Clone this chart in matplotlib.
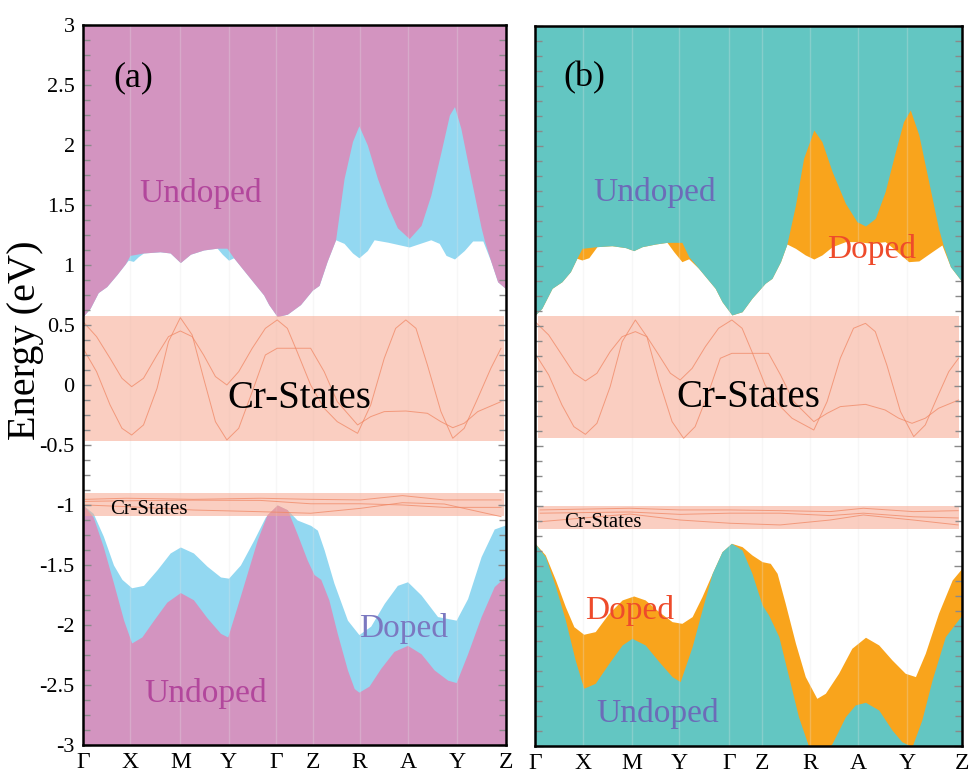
import numpy as np
import matplotlib
matplotlib.use("Agg")
import matplotlib.pyplot as plt
from matplotlib.ticker import MultipleLocator, FuncFormatter

plt.rcParams['font.family'] = ['Liberation Serif', 'DejaVu Serif']
plt.rcParams['axes.unicode_minus'] = False

# ---------------- data ----------------
kpath_labels = ['Γ', 'X', 'M', 'Y', 'Γ', 'Z', 'R', 'A', 'Y', 'Z']
kticks_a = [0.0, 0.111, 0.230, 0.344, 0.457, 0.543, 0.654, 0.768, 0.884, 1.0]
kticks_b = [0.0, 0.112, 0.227, 0.337, 0.454, 0.532, 0.644, 0.756, 0.871, 1.0]

# panel (a) conduction band, undoped / doped
ka_cb_u = [0.000, 0.017, 0.036, 0.056, 0.080, 0.100, 0.111, 0.143, 0.182, 0.206,
           0.230, 0.254, 0.285, 0.317, 0.340, 0.356, 0.388, 0.427, 0.439, 0.459,
           0.483, 0.514, 0.542, 0.558, 0.577, 0.597, 0.617, 0.637, 0.652, 0.672,
           0.696, 0.720, 0.743, 0.771, 0.799, 0.822, 0.846, 0.866, 0.878, 0.893,
           0.917, 0.941, 0.949, 0.964, 0.980, 1.000]
ea_cb_u = [0.57, 0.64, 0.77, 0.82, 0.92, 1.01, 1.08, 1.10, 1.11, 1.10,
           1.02, 1.09, 1.125, 1.14, 1.14, 1.06, 0.92, 0.75, 0.67, 0.57,
           0.59, 0.67, 0.79, 0.83, 1.03, 1.21, 1.72, 2.03, 2.16, 2.00,
           1.72, 1.49, 1.31, 1.22, 1.33, 1.58, 1.94, 2.25, 2.32, 2.14,
           1.72, 1.31, 1.20, 1.03, 0.86, 0.80]
ka_cb_d = [0.000, 0.017, 0.036, 0.056, 0.080, 0.100, 0.107, 0.119, 0.131, 0.143,
           0.182, 0.206, 0.230, 0.254, 0.285, 0.317, 0.329, 0.344, 0.356, 0.388,
           0.427, 0.439, 0.459, 0.483, 0.514, 0.542, 0.558, 0.577, 0.597, 0.617,
           0.637, 0.652, 0.672, 0.688, 0.720, 0.771, 0.822, 0.842, 0.858, 0.878,
           0.901, 0.921, 0.945, 0.964, 0.980, 1.000]
ea_cb_d = [0.57, 0.64, 0.77, 0.82, 0.92, 1.01, 1.04, 1.03, 1.07, 1.10,
           1.11, 1.10, 1.02, 1.09, 1.125, 1.14, 1.09, 1.04, 1.06, 0.92,
           0.75, 0.67, 0.57, 0.59, 0.67, 0.79, 0.83, 1.03, 1.21, 1.18,
           1.10, 1.06, 1.12, 1.21, 1.19, 1.15, 1.21, 1.18, 1.08, 1.05,
           1.12, 1.20, 1.20, 1.03, 0.86, 0.80]

# panel (a) valence band, undoped / doped
ka_vb_u = [0.000, 0.024, 0.048, 0.072, 0.096, 0.115, 0.139, 0.167, 0.198, 0.230,
           0.261, 0.293, 0.325, 0.342, 0.364, 0.388, 0.412, 0.435, 0.459, 0.483,
           0.506, 0.530, 0.546, 0.562, 0.581, 0.601, 0.625, 0.641, 0.652, 0.676,
           0.704, 0.735, 0.767, 0.799, 0.830, 0.862, 0.882, 0.909, 0.941, 0.972,
           1.000]
ea_vb_u = [-1.00, -1.10, -1.35, -1.65, -1.96, -2.15, -2.10, -1.96, -1.81, -1.73,
           -1.79, -1.94, -2.07, -2.10, -1.85, -1.57, -1.29, -1.08, -1.00, -1.04,
           -1.24, -1.46, -1.58, -1.62, -1.79, -2.07, -2.375, -2.53, -2.56, -2.51,
           -2.36, -2.22, -2.17, -2.24, -2.375, -2.46, -2.48, -2.24, -1.93, -1.68,
           -1.59]
ka_vb_d = [0.000, 0.024, 0.048, 0.072, 0.092, 0.115, 0.143, 0.175, 0.206, 0.230,
           0.261, 0.293, 0.325, 0.344, 0.372, 0.404, 0.431, 0.459, 0.483, 0.506,
           0.538, 0.554, 0.570, 0.593, 0.625, 0.652, 0.680, 0.712, 0.743, 0.767,
           0.799, 0.838, 0.882, 0.909, 0.941, 0.972, 1.000]
ea_vb_d = [-1.00, -1.07, -1.26, -1.50, -1.62, -1.69, -1.67, -1.54, -1.40, -1.35,
           -1.40, -1.51, -1.60, -1.61, -1.50, -1.29, -1.10, -1.00, -1.04, -1.125,
           -1.17, -1.21, -1.375, -1.65, -1.96, -2.08, -2.01, -1.82, -1.67, -1.64,
           -1.75, -1.93, -1.96, -1.78, -1.43, -1.20, -1.165]

# panel (b) conduction band, undoped / doped
kb_cb_u = [0.000, 0.016, 0.040, 0.063, 0.083, 0.098, 0.110, 0.145, 0.180, 0.212,
           0.231, 0.251, 0.282, 0.309, 0.344, 0.360, 0.383, 0.422, 0.438, 0.461,
           0.485, 0.508, 0.539, 0.555, 0.575, 0.590, 0.610, 0.629, 0.653, 0.672,
           0.696, 0.727, 0.754, 0.774, 0.797, 0.820, 0.844, 0.863, 0.879, 0.899,
           0.922, 0.945, 0.957, 0.973, 1.000]
eb_cb_u = [0.59, 0.647, 0.814, 0.869, 0.953, 1.064, 1.147, 1.161, 1.169, 1.153,
           1.128, 1.161, 1.183, 1.197, 1.197, 1.078, 0.981, 0.814, 0.703, 0.592,
           0.619, 0.731, 0.856, 0.897, 1.036, 1.183, 1.508, 1.897, 2.133, 2.036,
           1.786, 1.522, 1.369, 1.333, 1.397, 1.619, 1.953, 2.203, 2.30, 2.092,
           1.703, 1.314, 1.161, 0.994, 0.869]
kb_cb_d = [0.000, 0.016, 0.040, 0.063, 0.083, 0.098, 0.110, 0.126, 0.145, 0.180,
           0.212, 0.231, 0.251, 0.282, 0.309, 0.325, 0.344, 0.360, 0.383, 0.422,
           0.438, 0.461, 0.485, 0.508, 0.539, 0.555, 0.575, 0.590, 0.610, 0.633,
           0.653, 0.672, 0.696, 0.727, 0.754, 0.789, 0.820, 0.844, 0.875, 0.899,
           0.930, 0.953, 0.973, 1.000]
eb_cb_d = [0.59, 0.647, 0.814, 0.869, 0.953, 1.064, 1.05, 1.069, 1.161, 1.169,
           1.153, 1.128, 1.161, 1.183, 1.197, 1.119, 1.036, 1.06, 0.981, 0.814,
           0.703, 0.592, 0.619, 0.731, 0.856, 0.897, 1.036, 1.183, 1.147, 1.092,
           1.058, 1.092, 1.161, 1.203, 1.203, 1.189, 1.203, 1.133, 1.036, 1.042,
           1.119, 1.175, 0.994, 0.869]

# panel (b) valence band, undoped / doped
kb_vb_u = [0.000, 0.024, 0.048, 0.071, 0.094, 0.114, 0.141, 0.173, 0.204, 0.227,
           0.258, 0.290, 0.321, 0.340, 0.368, 0.391, 0.415, 0.438, 0.460, 0.485,
           0.508, 0.532, 0.547, 0.571, 0.594, 0.617, 0.641, 0.664, 0.696, 0.727,
           0.750, 0.774, 0.805, 0.836, 0.859, 0.883, 0.906, 0.930, 0.961, 1.000]
eb_vb_u = [-1.311, -1.422, -1.672, -1.95, -2.283, -2.519, -2.478, -2.311, -2.158, -2.103,
           -2.158, -2.297, -2.422, -2.464, -2.172, -1.867, -1.561, -1.381, -1.311, -1.367,
           -1.561, -1.825, -1.908, -2.089, -2.422, -2.756, -3.006, -3.12, -2.978, -2.756,
           -2.658, -2.636, -2.70, -2.867, -2.964, -3.006, -2.783, -2.45, -2.089, -1.908]
kb_vb_d = [0.000, 0.024, 0.048, 0.071, 0.091, 0.114, 0.141, 0.173, 0.204, 0.231,
           0.258, 0.290, 0.321, 0.344, 0.368, 0.391, 0.415, 0.438, 0.460, 0.485,
           0.508, 0.532, 0.551, 0.567, 0.586, 0.610, 0.633, 0.660, 0.680, 0.711,
           0.742, 0.774, 0.805, 0.836, 0.867, 0.891, 0.914, 0.945, 0.977, 1.000]
eb_vb_d = [-1.311, -1.408, -1.617, -1.839, -2.006, -2.069, -2.047, -1.894, -1.783, -1.75,
           -1.783, -1.881, -1.964, -1.978, -1.922, -1.756, -1.561, -1.381, -1.311, -1.339,
           -1.408, -1.464, -1.478, -1.561, -1.811, -2.144, -2.422, -2.603, -2.561, -2.394,
           -2.186, -2.094, -2.158, -2.283, -2.394, -2.422, -2.228, -1.894, -1.617, -1.519]

# Cr-state bands (energy windows) and k extents
cr_upper_a = (-0.47, 0.575); cr_lower_a = (-1.09, -0.90); cr_k_a = (0.004, 0.996)
cr_upper_b = (-0.43, 0.583); cr_lower_b = (-1.19, -1.00); cr_k_b = (0.008, 0.992)

# Cr bands lines, panel (a)
ka_cr1 = [0.000, 0.032, 0.064, 0.092, 0.115, 0.143, 0.175, 0.202, 0.230, 0.258,
          0.285, 0.313, 0.340, 0.368, 0.400, 0.431, 0.459, 0.483, 0.506, 0.538,
          0.570, 0.601, 0.649, 0.680, 0.712, 0.739, 0.763, 0.787, 0.814, 0.846,
          0.874, 0.901, 0.933, 0.964, 0.988]
ea_cr1 = [0.528, 0.403, 0.222, 0.056, -0.014, 0.056, 0.25, 0.403, 0.45, 0.403,
          0.25, 0.07, 0.0, 0.111, 0.306, 0.472, 0.542, 0.472, 0.278, 0.0,
          -0.194, -0.306, -0.403, -0.167, 0.222, 0.472, 0.542, 0.472, 0.167, -0.222,
          -0.444, -0.361, -0.111, 0.139, 0.306]
ka_cr2 = [0.000, 0.032, 0.064, 0.092, 0.115, 0.143, 0.175, 0.202, 0.230, 0.258,
          0.285, 0.313, 0.340, 0.368, 0.400, 0.431, 0.459, 0.538, 0.570, 0.601,
          0.649, 0.680, 0.712, 0.763, 0.814, 0.846, 0.874, 0.901, 0.933, 0.988]
ea_cr2 = [0.306, 0.111, -0.167, -0.361, -0.417, -0.333, -0.028, 0.361, 0.561, 0.417,
          0.056, -0.306, -0.458, -0.361, -0.056, 0.25, 0.306, 0.306, 0.111, -0.139,
          -0.333, -0.264, -0.222, -0.217, -0.236, -0.306, -0.356, -0.319, -0.222, -0.139]
ka_crl = [0.005, 0.103, 0.261, 0.419, 0.538, 0.656, 0.755, 0.854, 0.988]
ea_crl1 = [-0.953, -0.944, -0.953, -0.944, -0.953, -0.958, -0.922, -0.958, -0.958]
ea_crl2 = [-0.97, -0.965, -0.96, -0.962, -0.99, -0.99, -1.00, -1.02, -1.02]
ea_crl3 = [-1.00, -1.014, -1.042, -1.056, -1.069, -1.028, -0.981, -0.992, -1.097]

# Cr bands lines, panel (b)
kb_cr1 = [0.000, 0.032, 0.063, 0.091, 0.118, 0.145, 0.176, 0.204, 0.235, 0.262,
          0.290, 0.317, 0.340, 0.368, 0.399, 0.430, 0.461, 0.485, 0.508, 0.539,
          0.571, 0.602, 0.653, 0.684, 0.715, 0.746, 0.774, 0.797, 0.824, 0.856,
          0.887, 0.914, 0.941, 0.969, 0.992]
eb_cr1 = [0.536, 0.425, 0.258, 0.106, 0.042, 0.106, 0.286, 0.411, 0.453, 0.411,
          0.258, 0.106, 0.05, 0.147, 0.328, 0.481, 0.55, 0.481, 0.286, 0.008,
          -0.158, -0.269, -0.367, -0.131, 0.231, 0.481, 0.522, 0.453, 0.175, -0.214,
          -0.422, -0.325, -0.103, 0.119, 0.231]
kb_cr2 = [0.000, 0.032, 0.063, 0.091, 0.118, 0.145, 0.176, 0.204, 0.235, 0.262,
          0.290, 0.321, 0.348, 0.375, 0.407, 0.434, 0.461, 0.547, 0.575, 0.606,
          0.653, 0.684, 0.715, 0.774, 0.820, 0.852, 0.883, 0.914, 0.945, 0.992]
eb_cr2 = [0.272, 0.092, -0.158, -0.339, -0.403, -0.311, -0.006, 0.369, 0.55, 0.411,
          0.05, -0.297, -0.436, -0.339, -0.047, 0.231, 0.272, 0.272, 0.092, -0.131,
          -0.297, -0.228, -0.172, -0.153, -0.2, -0.269, -0.311, -0.269, -0.186, -0.117]
kb_crl = [0.012, 0.222, 0.340, 0.457, 0.574, 0.691, 0.769, 0.886, 0.991]
eb_crl1 = [-1.033, -1.019, -1.033, -1.033, -1.039, -1.047, -1.019, -1.047, -1.039]
eb_crl2 = [-1.06, -1.05, -1.07, -1.06, -1.06, -1.08, -1.06, -1.09, -1.10]
eb_crl3 = [-1.131, -1.067, -1.117, -1.144, -1.158, -1.117, -1.075, -1.117, -1.158]

# ---------------- style ----------------
PINK = '#D394C0'
CYAN = '#93D8F1'
TEAL = '#63C6C2'
ORANGE = '#F9A41C'
BAND = '#F6A78F'
CRLINE = '#F08764'
EMIN, EMAX = -3.0, 3.0

fig = plt.figure(figsize=(9.71, 7.76), dpi=100)
ax_a = fig.add_axes([0.0855, 0.040, 0.4357, 0.9278])
ax_b = fig.add_axes([0.551, 0.0387, 0.4397, 0.9278])


def draw_panel(ax, kt, cbu, cbd, vbu, vbd, c_und, c_dop, cr_up, cr_lo, cr_k, crlines):
    top, bot = EMAX + 0.3, EMIN - 0.3
    ax.fill_between(cbd[0], cbd[1], top, color=c_dop, lw=0, zorder=1.0)
    ax.fill_between(cbu[0], cbu[1], top, color=c_und, lw=0, zorder=1.1)
    ax.fill_between(vbd[0], bot, vbd[1], color=c_dop, lw=0, zorder=1.0)
    ax.fill_between(vbu[0], bot, vbu[1], color=c_und, lw=0, zorder=1.1)
    for k in kt[1:-1]:
        ax.axvline(k, color='#e4e4e4', lw=1.0, alpha=0.28, zorder=1.5)
    for lo, hi in (cr_up, cr_lo):
        ax.fill_between(list(cr_k), [lo, lo], [hi, hi], color=BAND, alpha=0.55,
                        lw=0, zorder=2.0)
    for kk, ee in crlines:
        ax.plot(kk, ee, color=CRLINE, lw=0.7, alpha=0.75, zorder=2.1)
    ax.set_xlim(0, 1)
    ax.set_ylim(EMIN, EMAX)
    ax.set_xticks(kt)
    ax.set_xticklabels(kpath_labels)
    ax.tick_params(axis='x', length=0, labelsize=17, pad=5)
    ax.yaxis.set_major_locator(MultipleLocator(0.5))
    ax.yaxis.set_minor_locator(MultipleLocator(0.125))
    ax.tick_params(axis='y', which='both', direction='in', left=True, right=True,
                   color='#8a8a8a', width=1.0, labelsize=16, pad=6)
    ax.tick_params(axis='y', which='major', length=6)
    ax.tick_params(axis='y', which='minor', length=5)
    ax.set_axisbelow(False)
    for s in ax.spines.values():
        s.set_linewidth(1.8)
        s.set_color('black')
        s.set_zorder(10)


draw_panel(ax_a, kticks_a, (ka_cb_u, ea_cb_u), (ka_cb_d, ea_cb_d),
           (ka_vb_u, ea_vb_u), (ka_vb_d, ea_vb_d), PINK, CYAN,
           cr_upper_a, cr_lower_a, cr_k_a,
           [(ka_cr1, ea_cr1), (ka_cr2, ea_cr2), (ka_crl, ea_crl1),
            (ka_crl, ea_crl2), (ka_crl, ea_crl3)])
draw_panel(ax_b, kticks_b, (kb_cb_u, eb_cb_u), (kb_cb_d, eb_cb_d),
           (kb_vb_u, eb_vb_u), (kb_vb_d, eb_vb_d), TEAL, ORANGE,
           cr_upper_b, cr_lower_b, cr_k_b,
           [(kb_cr1, eb_cr1), (kb_cr2, eb_cr2), (kb_crl, eb_crl1),
            (kb_crl, eb_crl2), (kb_crl, eb_crl3)])

ax_a.yaxis.set_major_formatter(FuncFormatter(lambda v, p: f'{v:g}'))
ax_b.tick_params(axis='y', labelleft=False)

ax_a.set_ylabel('Energy (eV)', fontsize=29)
ax_a.yaxis.set_label_coords(-0.092, 0.5625)

# annotations
ax_a.text(0.118, 2.56, '(a)', fontsize=26, ha='center', va='center', zorder=5)
ax_b.text(0.115, 2.57, '(b)', fontsize=26, ha='center', va='center', zorder=5)

ax_a.text(0.277, 1.525, 'Undoped', fontsize=24, color='#B2479C', ha='center', va='baseline', zorder=5)
ax_a.text(0.289, -2.64, 'Undoped', fontsize=24, color='#B2479C', ha='center', va='baseline', zorder=5)
ax_a.text(0.758, -2.10, 'Doped', fontsize=24, color='#7B78C0', ha='center', va='baseline', zorder=5)
ax_a.text(0.511, -0.19, 'Cr-States', fontsize=28, color='black', ha='center', va='baseline', zorder=5)
ax_a.text(0.156, -1.075, 'Cr-States', fontsize=15, color='black', ha='center', va='baseline', zorder=5)

ax_b.text(0.280, 1.544, 'Undoped', fontsize=24, color='#6C6CB8', ha='center', va='baseline', zorder=5)
ax_b.text(0.287, -2.80, 'Undoped', fontsize=24, color='#6C6CB8', ha='center', va='baseline', zorder=5)
ax_b.text(0.788, 1.067, 'Doped', fontsize=24, color='#EE4B2B', ha='center', va='baseline', zorder=5)
ax_b.text(0.222, -1.944, 'Doped', fontsize=24, color='#EE4B2B', ha='center', va='baseline', zorder=5)
ax_b.text(0.500, -0.172, 'Cr-States', fontsize=28, color='black', ha='center', va='baseline', zorder=5)
ax_b.text(0.158, -1.172, 'Cr-States', fontsize=15, color='black', ha='center', va='baseline', zorder=5)

fig.savefig('out.png', dpi=100)
